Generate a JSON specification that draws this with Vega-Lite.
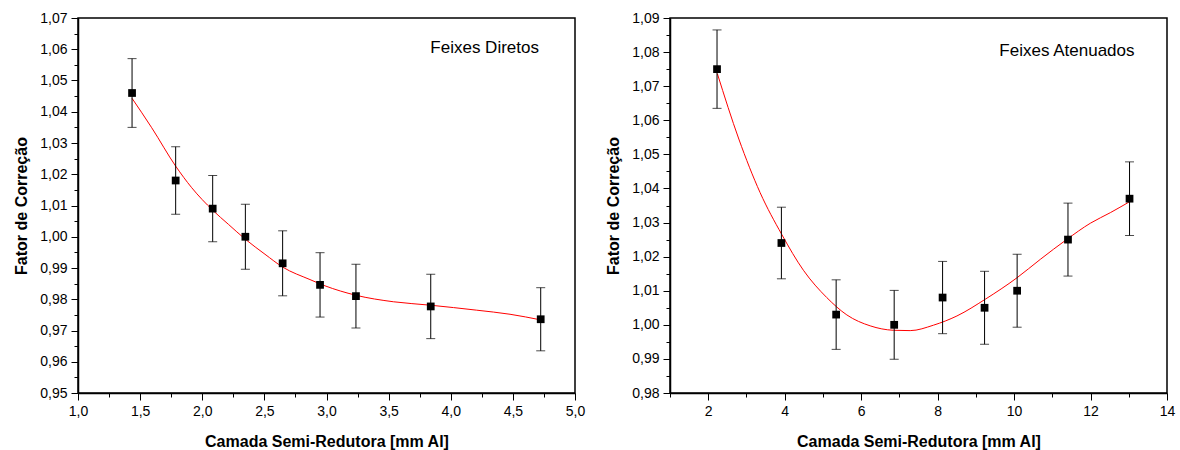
{
  "$schema": "https://vega.github.io/schema/vega-lite/v6.json",
  "background": "white",
  "padding": {"left": 13, "top": 10, "right": 5, "bottom": 0},
  "spacing": 19,
  "config": {
    "font": "Liberation Sans",
    "view": {"stroke": "black", "strokeWidth": 1.5},
    "axis": {
      "domainColor": "black", "domainWidth": 1.5,
      "tickColor": "black", "tickWidth": 1,
      "labelColor": "black", "titleColor": "black",
      "labelFont": "Liberation Sans", "titleFont": "Liberation Sans",
      "labelFontSize": 14, "titleFontSize": 16, "titleFontWeight": "bold",
      "grid": false, "labelOverlap": false
    }
  },
  "datasets": {
    "leftPts": [
      {"x": 1.435, "y": 1.046, "err": 0.011},
      {"x": 1.786, "y": 1.018, "err": 0.0108},
      {"x": 2.084, "y": 1.009, "err": 0.0106},
      {"x": 2.347, "y": 1.000, "err": 0.0104},
      {"x": 2.647, "y": 0.9915, "err": 0.0104},
      {"x": 2.948, "y": 0.9846, "err": 0.0103},
      {"x": 3.237, "y": 0.9810, "err": 0.0102},
      {"x": 3.839, "y": 0.9777, "err": 0.0103},
      {"x": 4.724, "y": 0.9736, "err": 0.0101}
    ],
    "leftFit": [
      {"x": 1.435, "y": 1.0443},
      {"x": 1.593, "y": 1.0349},
      {"x": 1.786, "y": 1.0226},
      {"x": 1.915, "y": 1.0157},
      {"x": 2.084, "y": 1.0085},
      {"x": 2.21, "y": 1.004},
      {"x": 2.347, "y": 0.9992},
      {"x": 2.505, "y": 0.9944},
      {"x": 2.647, "y": 0.9903},
      {"x": 2.867, "y": 0.9863},
      {"x": 2.988, "y": 0.9843},
      {"x": 3.235, "y": 0.9813},
      {"x": 3.538, "y": 0.9792},
      {"x": 3.836, "y": 0.9781},
      {"x": 4.209, "y": 0.9765},
      {"x": 4.477, "y": 0.9752},
      {"x": 4.724, "y": 0.9734}
    ],
    "rightPts": [
      {"x": 2.23, "y": 1.075, "err": 0.0115},
      {"x": 3.914, "y": 1.024, "err": 0.0105},
      {"x": 5.346, "y": 1.003, "err": 0.0102},
      {"x": 6.864, "y": 1.000, "err": 0.0101},
      {"x": 8.13, "y": 1.008, "err": 0.0106},
      {"x": 9.228, "y": 1.005, "err": 0.0107},
      {"x": 10.08, "y": 1.010, "err": 0.0107},
      {"x": 11.41, "y": 1.025, "err": 0.0107},
      {"x": 13.02, "y": 1.037, "err": 0.0108}
    ],
    "rightFit": [
      {"x": 2.238, "y": 1.0737},
      {"x": 2.80, "y": 1.0545},
      {"x": 3.356, "y": 1.0388},
      {"x": 3.924, "y": 1.0265},
      {"x": 4.49, "y": 1.016},
      {"x": 5.10, "y": 1.008},
      {"x": 5.626, "y": 1.0029},
      {"x": 6.236, "y": 0.9997},
      {"x": 6.846, "y": 0.9984},
      {"x": 7.283, "y": 0.9983},
      {"x": 7.893, "y": 0.9999},
      {"x": 8.505, "y": 1.0026},
      {"x": 9.246, "y": 1.0075},
      {"x": 10.076, "y": 1.0138},
      {"x": 10.686, "y": 1.0192},
      {"x": 11.385, "y": 1.0251},
      {"x": 11.995, "y": 1.0298},
      {"x": 12.518, "y": 1.0329},
      {"x": 13.02, "y": 1.0361}
    ],
    "leftLabel": [{"x": 4.71, "y": 1.0604, "label": "Feixes Diretos"}],
    "rightLabel": [{"x": 13.15, "y": 1.0803, "label": "Feixes Atenuados"}]
  },
  "hconcat": [
    {
      "width": 497, "height": 375,
      "resolve": {"axis": {"x": "independent", "y": "independent"}},
      "layer": [
        {
          "data": {"name": "leftFit"},
          "mark": {"type": "line", "color": "#ff0000", "strokeWidth": 1, "interpolate": "monotone"},
          "encoding": {
            "x": {"field": "x", "type": "quantitative", "scale": {"domain": [1, 5], "nice": false, "zero": false}, "axis": null},
            "y": {"field": "y", "type": "quantitative", "scale": {"domain": [0.95, 1.07], "nice": false, "zero": false}, "axis": null}
          }
        },
        {
          "data": {"name": "leftPts"},
          "mark": {"type": "errorbar", "color": "black", "thickness": 1, "ticks": {"size": 9, "thickness": 1, "color": "black"}},
          "encoding": {
            "x": {"field": "x", "type": "quantitative", "scale": {"domain": [1, 5], "nice": false, "zero": false}, "axis": null},
            "y": {"field": "y", "type": "quantitative", "scale": {"domain": [0.95, 1.07], "nice": false, "zero": false}, "axis": null},
            "yError": {"field": "err"}
          }
        },
        {
          "data": {"name": "leftPts"},
          "mark": {"type": "square", "size": 60, "color": "black", "opacity": 1, "filled": true},
          "encoding": {
            "x": {"field": "x", "type": "quantitative", "scale": {"domain": [1, 5], "nice": false, "zero": false},
              "axis": {"orient": "bottom", "title": "Camada Semi-Redutora [mm Al]", "values": [1, 1.5, 2, 2.5, 3, 3.5, 4, 4.5, 5],
                "labelExpr": "replace(format(datum.value, '.1f'), '.', ',')", "tickSize": 7, "labelPadding": 4, "titlePadding": 15, "labelFlush": false}},
            "y": {"field": "y", "type": "quantitative", "scale": {"domain": [0.95, 1.07], "nice": false, "zero": false},
              "axis": {"orient": "left", "title": "Fator de Correção", "values": [0.95, 0.96, 0.97, 0.98, 0.99, 1.0, 1.01, 1.02, 1.03, 1.04, 1.05, 1.06, 1.07],
                "labelExpr": "replace(format(datum.value, '.2f'), '.', ',')", "tickSize": 7, "labelPadding": 4, "titlePadding": 10, "labelFlush": false}}
          }
        },
        {
          "data": {"name": "leftPts"},
          "mark": {"type": "point", "opacity": 0},
          "encoding": {
            "x": {"field": "x", "type": "quantitative", "scale": {"domain": [1, 5], "nice": false, "zero": false},
              "axis": {"orient": "bottom", "title": null, "labels": false, "domain": false, "values": [1.25, 1.75, 2.25, 2.75, 3.25, 3.75, 4.25, 4.75], "tickSize": 4}},
            "y": {"field": "y", "type": "quantitative", "scale": {"domain": [0.95, 1.07], "nice": false, "zero": false},
              "axis": {"orient": "left", "title": null, "labels": false, "domain": false, "values": [0.955, 0.965, 0.975, 0.985, 0.995, 1.005, 1.015, 1.025, 1.035, 1.045, 1.055, 1.065], "tickSize": 4}}
          }
        },
        {
          "data": {"name": "leftLabel"},
          "mark": {"type": "text", "align": "right", "baseline": "middle", "fontSize": 17, "font": "Liberation Sans", "color": "black"},
          "encoding": {
            "x": {"field": "x", "type": "quantitative", "scale": {"domain": [1, 5], "nice": false, "zero": false}, "axis": null},
            "y": {"field": "y", "type": "quantitative", "scale": {"domain": [0.95, 1.07], "nice": false, "zero": false}, "axis": null},
            "text": {"field": "label"}
          }
        }
      ]
    },
    {
      "width": 497, "height": 375,
      "resolve": {"axis": {"x": "independent", "y": "independent"}},
      "layer": [
        {
          "data": {"name": "rightFit"},
          "mark": {"type": "line", "color": "#ff0000", "strokeWidth": 1, "interpolate": "monotone"},
          "encoding": {
            "x": {"field": "x", "type": "quantitative", "scale": {"domain": [1, 14], "nice": false, "zero": false}, "axis": null},
            "y": {"field": "y", "type": "quantitative", "scale": {"domain": [0.98, 1.09], "nice": false, "zero": false}, "axis": null}
          }
        },
        {
          "data": {"name": "rightPts"},
          "mark": {"type": "errorbar", "color": "black", "thickness": 1, "ticks": {"size": 9, "thickness": 1, "color": "black"}},
          "encoding": {
            "x": {"field": "x", "type": "quantitative", "scale": {"domain": [1, 14], "nice": false, "zero": false}, "axis": null},
            "y": {"field": "y", "type": "quantitative", "scale": {"domain": [0.98, 1.09], "nice": false, "zero": false}, "axis": null},
            "yError": {"field": "err"}
          }
        },
        {
          "data": {"name": "rightPts"},
          "mark": {"type": "square", "size": 60, "color": "black", "opacity": 1, "filled": true},
          "encoding": {
            "x": {"field": "x", "type": "quantitative", "scale": {"domain": [1, 14], "nice": false, "zero": false},
              "axis": {"orient": "bottom", "title": "Camada Semi-Redutora [mm Al]", "values": [2, 4, 6, 8, 10, 12, 14],
                "format": "d", "tickSize": 7, "labelPadding": 4, "titlePadding": 15, "labelFlush": false}},
            "y": {"field": "y", "type": "quantitative", "scale": {"domain": [0.98, 1.09], "nice": false, "zero": false},
              "axis": {"orient": "left", "title": "Fator de Correção", "values": [0.98, 0.99, 1.0, 1.01, 1.02, 1.03, 1.04, 1.05, 1.06, 1.07, 1.08, 1.09],
                "labelExpr": "replace(format(datum.value, '.2f'), '.', ',')", "tickSize": 7, "labelPadding": 4, "titlePadding": 10, "labelFlush": false}}
          }
        },
        {
          "data": {"name": "rightPts"},
          "mark": {"type": "point", "opacity": 0},
          "encoding": {
            "x": {"field": "x", "type": "quantitative", "scale": {"domain": [1, 14], "nice": false, "zero": false},
              "axis": {"orient": "bottom", "title": null, "labels": false, "domain": false, "values": [1, 3, 5, 7, 9, 11, 13], "tickSize": 4}},
            "y": {"field": "y", "type": "quantitative", "scale": {"domain": [0.98, 1.09], "nice": false, "zero": false},
              "axis": {"orient": "left", "title": null, "labels": false, "domain": false, "values": [0.985, 0.995, 1.005, 1.015, 1.025, 1.035, 1.045, 1.055, 1.065, 1.075, 1.085], "tickSize": 4}}
          }
        },
        {
          "data": {"name": "rightLabel"},
          "mark": {"type": "text", "align": "right", "baseline": "middle", "fontSize": 17, "font": "Liberation Sans", "color": "black"},
          "encoding": {
            "x": {"field": "x", "type": "quantitative", "scale": {"domain": [1, 14], "nice": false, "zero": false}, "axis": null},
            "y": {"field": "y", "type": "quantitative", "scale": {"domain": [0.98, 1.09], "nice": false, "zero": false}, "axis": null},
            "text": {"field": "label"}
          }
        }
      ]
    }
  ]
}
